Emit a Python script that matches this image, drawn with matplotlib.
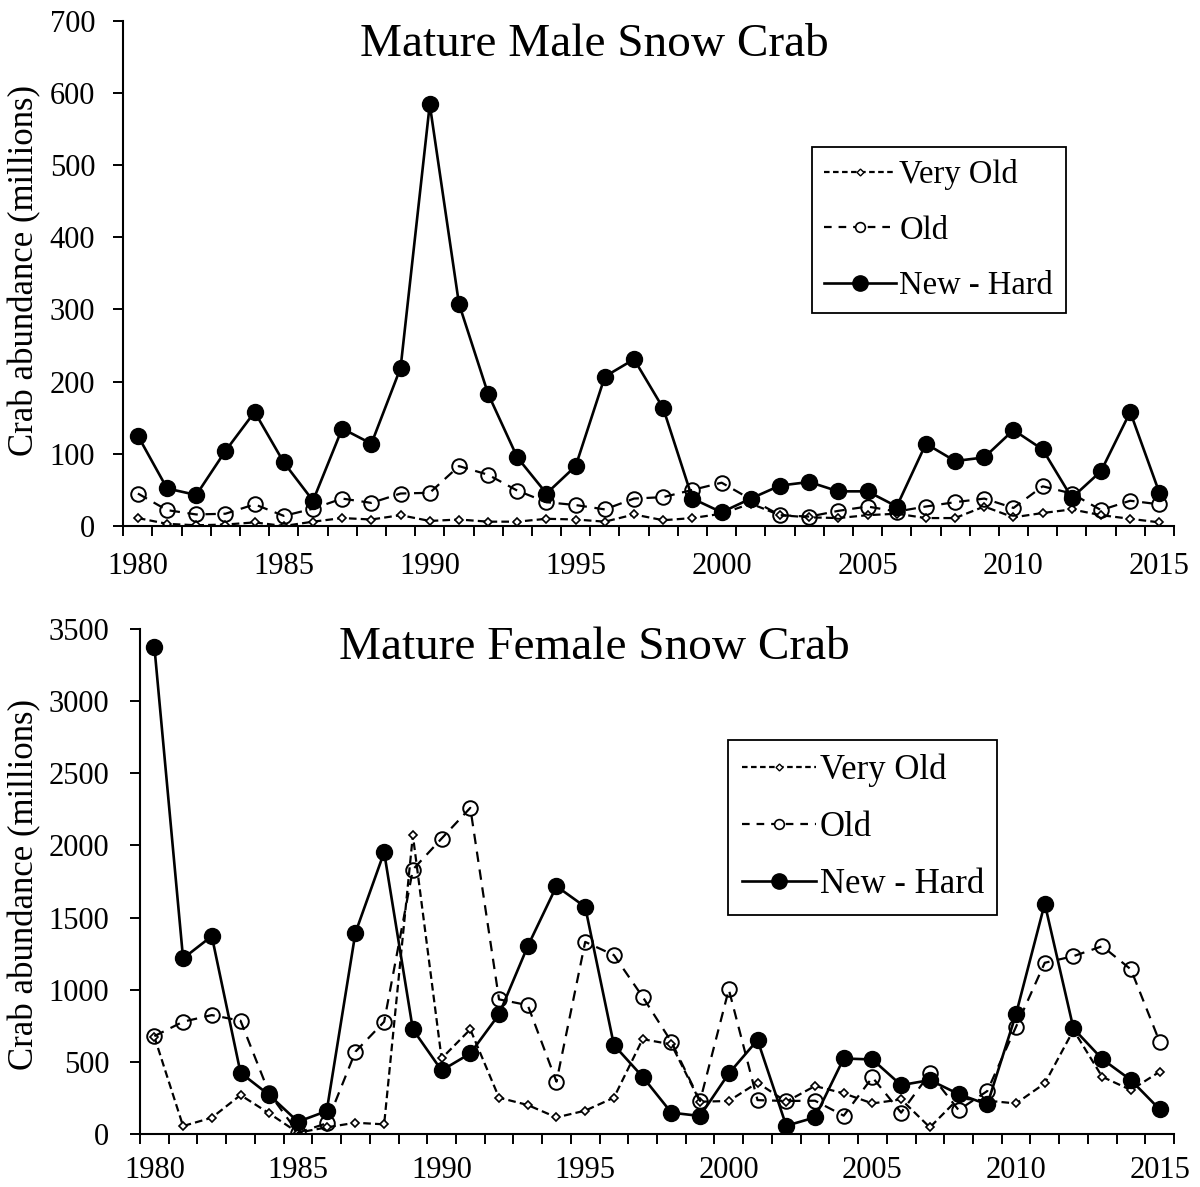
import matplotlib
matplotlib.use("Agg")
import matplotlib.pyplot as plt
from matplotlib.lines import Line2D
from matplotlib.ticker import MultipleLocator, FixedLocator

years = list(range(1980, 2016))

# Mature males (millions)
male_very_old = [11, 3, 1, 2, 5, 0, 6, 11, 9, 15, 7, 9, 6, 6, 10, 9, 6, 16,
                 8, 11, 17, 31, 15, 12, 11, 15, 17, 11, 11, 27, 12, 18, 23, 15, 10, 5]
male_old = [45, 22, 16, 17, 30, 14, 24, 38, 32, 45, 46, 83, 71, 49, 33, 29, 23, 38,
            40, 50, 60, 37, 15, 13, 21, 27, 20, 27, 33, 38, 25, 55, 45, 22, 35, 30]
male_new_hard = [125, 52, 43, 104, 158, 88, 35, 135, 114, 219, 584, 308, 183, 95, 45, 83, 207, 231,
                 163, 38, 19, 38, 56, 61, 48, 48, 27, 114, 90, 95, 133, 106, 39, 76, 158, 46]

# Mature females (millions)
female_very_old = [673, 53, 111, 268, 141, 7, 44, 76, 65, 2071, 522, 724, 250, 199, 113, 160, 250, 656,
                   620, 222, 227, 354, 222, 331, 280, 210, 238, 44, 245, 229, 210, 349, 719, 395, 303, 430]
female_old = [677, 777, 823, 784, 280, 7, 72, 569, 777, 1833, 2048, 2261, 932, 892, 361, 1331, 1239, 950,
              638, 227, 1001, 233, 227, 229, 125, 391, 146, 418, 164, 296, 742, 1186, 1232, 1301, 1140, 638]
female_new_hard = [3380, 1216, 1371, 423, 268, 83, 157, 1394, 1953, 724, 439, 557, 828, 1301, 1717, 1574, 615, 395,
                   146, 123, 418, 650, 55, 113, 522, 515, 337, 372, 275, 203, 830, 1597, 730, 518, 372, 169]

series_labels = ["Very Old", "Old", "New - Hard"]
year_labels = list(range(1980, 2016, 5))

plt.rcParams["font.family"] = ["Liberation Serif", "DejaVu Serif"]
plt.rcParams["lines.scale_dashes"] = False

W, H = 1200, 1187
fig = plt.figure(figsize=(W / 100, H / 100), dpi=100)


def px_axes(left, top, right, bottom):
    return fig.add_axes([left / W, 1 - bottom / H, (right - left) / W, (bottom - top) / H])


ax_top = px_axes(123.3, 20.7, 1174, 526)
ax_bot = px_axes(140, 629.3, 1174, 1133.7)

VO_DASH = (5.5, 3.0)
OLD_DASH = (7.5, 5.5)


def draw(ax, very_old, old, hard):
    ax.plot(years, very_old, color="black", lw=1.6, dashes=VO_DASH,
            marker="D", ms=4.4, mfc="white", mec="black", mew=1.2, zorder=2)
    ax.plot(years, old, color="black", lw=1.6, dashes=OLD_DASH,
            marker="o", ms=10.5, mfc="none", mec="black", mew=1.4, zorder=3)
    ax.plot(years, hard, color="black", lw=1.9, ls="-",
            marker="o", ms=11.5, mfc="black", mec="black", zorder=4)


def style(ax, ymax, ystep, ytick_pad, xtick_pad):
    ax.set_xlim(1979.5, 2015.5)
    ax.set_ylim(0, ymax)
    for s in ("top", "right"):
        ax.spines[s].set_visible(False)
    for s in ("left", "bottom"):
        ax.spines[s].set_linewidth(1.5)
    ax.xaxis.set_major_locator(FixedLocator(year_labels))
    ax.xaxis.set_minor_locator(FixedLocator([y - 0.5 for y in range(1980, 2017)]))
    ax.yaxis.set_major_locator(MultipleLocator(ystep))
    ax.tick_params(axis="x", which="major", length=0, labelsize=22, pad=xtick_pad)
    ax.tick_params(axis="x", which="minor", length=7.2, width=1.4, direction="out")
    ax.tick_params(axis="y", which="major", length=7.2, width=1.4, direction="out",
                   labelsize=22, pad=ytick_pad)


draw(ax_top, male_very_old, male_old, male_new_hard)
draw(ax_bot, female_very_old, female_old, female_new_hard)
style(ax_top, 700, 100, 13, 19)
style(ax_bot, 3500, 500, 15, 16)

fig.text(594 / W, 1 - 45 / H, "Mature Male Snow Crab", ha="center", va="center", fontsize=34)
fig.text(594 / W, 1 - 648 / H, "Mature Female Snow Crab", ha="center", va="center", fontsize=34)

for yc in (270, 884):
    fig.text(25 / W, 1 - yc / H, "Crab abundance (millions)", rotation=90,
             ha="center", va="center", fontsize=25)

handles = [
    Line2D([], [], color="black", lw=1.6, dashes=(4.0, 2.5), marker="D", ms=3.5,
           mfc="white", mec="black", mew=1.0),
    Line2D([], [], color="black", lw=1.6, dashes=(5.5, 5.0), marker="o", ms=7,
           mfc="white", mec="black", mew=1.2),
    Line2D([], [], color="black", lw=1.9, ls="-", marker="o", ms=11, mfc="black", mec="black"),
]


def add_legend(ax, left, top, fs, spacing, pad, hlen):
    leg = ax.legend(handles, series_labels, loc="upper left",
                    bbox_to_anchor=(left / W, 1 - top / H), bbox_transform=fig.transFigure,
                    fontsize=fs, frameon=True, fancybox=False, shadow=False, framealpha=1,
                    edgecolor="black", borderaxespad=0, borderpad=pad, labelspacing=spacing,
                    handlelength=hlen, handletextpad=0.12)
    leg.get_frame().set_linewidth(1.3)
    return leg


add_legend(ax_top, 812, 147, 23.5, 0.76, 0.38, 2.18)
add_legend(ax_bot, 728, 740, 25, 0.69, 0.39, 2.13)

fig.savefig("out.png", dpi=100)
